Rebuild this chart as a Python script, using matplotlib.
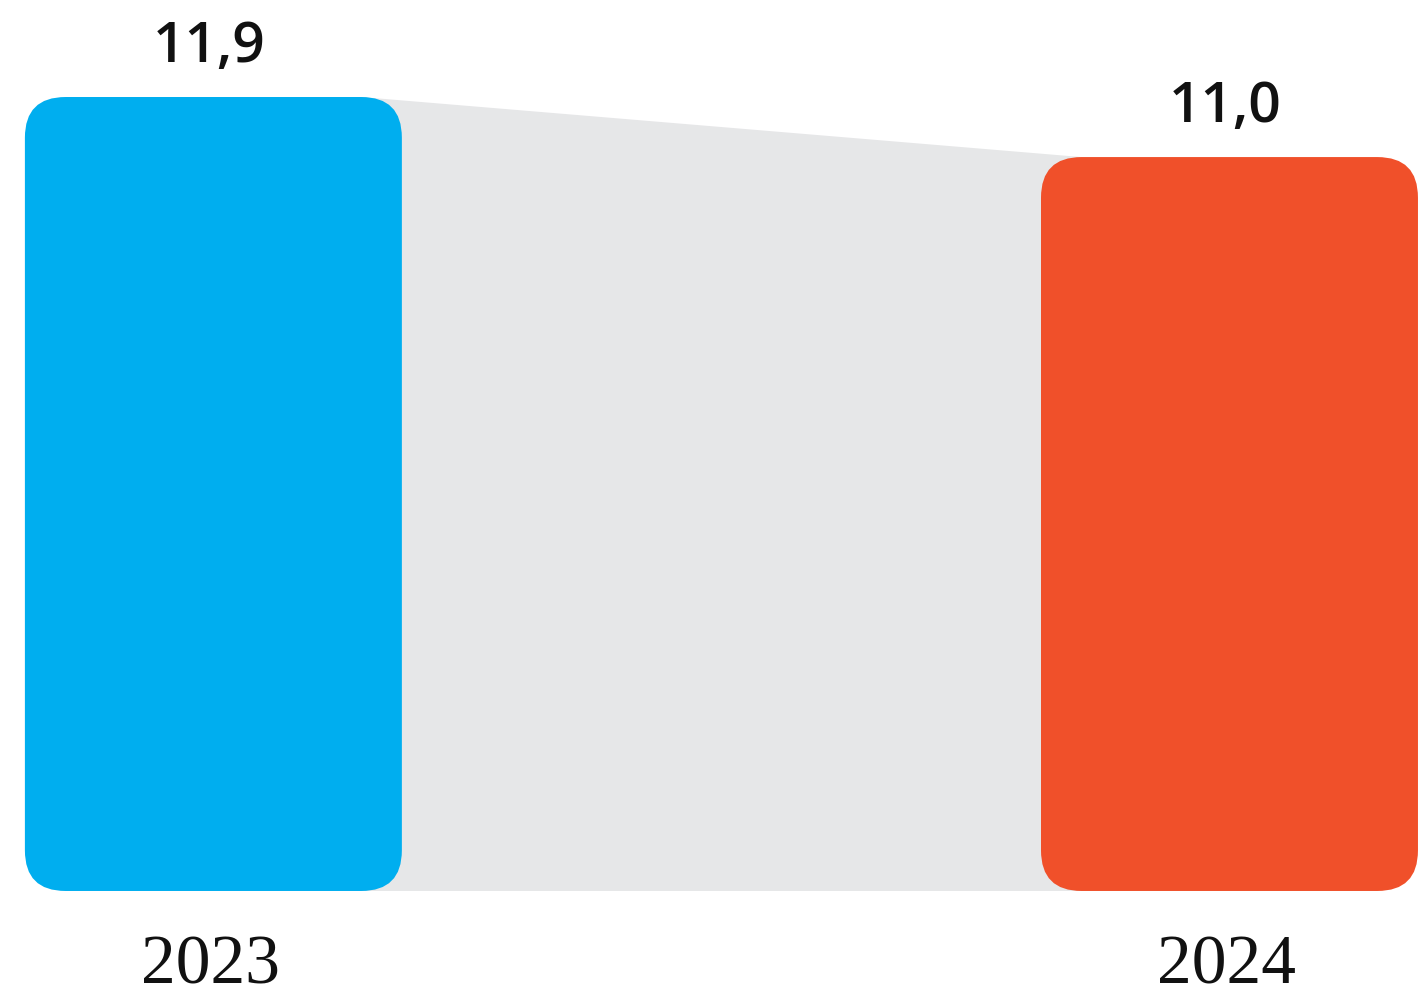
import matplotlib
matplotlib.use("Agg")
import matplotlib.pyplot as plt
from matplotlib.patches import FancyBboxPatch

years = ["2023", "2024"]
values = [11.9, 11.0]
labels = ["11,9", "11,0"]
colors = ["#00AEEF", "#F0502A"]

fig = plt.figure(figsize=(14.2, 9.94), dpi=100)
ax = fig.add_axes([0, 0, 1, 1])
ax.set_xlim(-0.210, 1.1875)
ax.set_ylim(-1.544, 13.354)
ax.axis("off")

w = 0.371
r = 0.04  # corner radius in x units
# px per unit along x / along y
aspect = (1420 / (1.1875 + 0.210)) / (994 / (13.354 + 1.544))
xs = list(range(len(values)))

# grey connector between the two bars
gx0 = xs[0] + w / 2 - r
gx1 = xs[1] - w / 2 + r
ax.fill([gx0, gx0, gx1, gx1], [0, values[0], values[1], 0],
        color="#E6E7E8", lw=0, zorder=1)

for x, v, c, lab, yr in zip(xs, values, colors, labels, years):
    box = FancyBboxPatch((x - w / 2, 0), w, v,
                         boxstyle=f"round,pad=0,rounding_size={r}",
                         mutation_aspect=aspect, fc=c, ec="none", zorder=2)
    ax.add_patch(box)
    ax.annotate(lab, (x - 0.004, v), xytext=(0, 25), textcoords="offset points",
                ha="center", va="baseline", fontsize=41, fontweight="semibold",
                family="Open Sans", color="#111111")
    ax.text(x - 0.003, -1.38, yr, ha="center", va="baseline",
            fontsize=50, family="Liberation Serif", color="#111111")

fig.savefig("out.png", dpi=100)
